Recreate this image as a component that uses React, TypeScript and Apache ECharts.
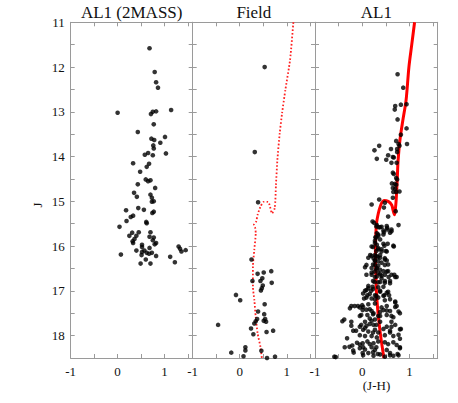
import React, { useEffect, useRef } from "react";
import * as echarts from "echarts";

// Panel 1: AL1 (2MASS) stars [J-H, J]
const twoMassStars: number[][] = [
  [0.68, 11.58], [0.79, 12.11], [0.82, 12.34], [0.86, 12.46], [0.0, 13.02], [1.14, 12.96],
  [0.71, 13.05], [0.75, 13.0], [0.82, 12.99], [0.77, 13.28], [0.43, 13.45], [1.01, 13.56],
  [0.72, 13.6], [0.78, 13.63], [0.91, 13.69], [0.76, 13.75], [0.77, 13.82], [0.65, 13.92],
  [0.58, 13.96], [0.75, 13.97], [1.03, 13.93], [0.33, 14.15], [0.67, 14.16], [0.62, 14.23],
  [0.48, 14.34], [0.6, 14.51], [0.7, 14.53], [0.65, 14.55], [0.8, 14.7], [0.43, 14.62],
  [0.35, 14.81], [0.41, 14.9], [0.7, 14.85], [0.73, 14.92], [0.73, 15.01], [0.77, 15.0],
  [0.18, 15.2], [0.56, 15.19], [0.44, 15.15], [0.33, 15.32], [0.28, 15.35], [0.77, 15.23],
  [0.74, 15.26], [0.19, 15.44], [0.61, 15.46], [0.62, 15.49], [0.04, 15.57], [0.31, 15.7],
  [0.45, 15.69], [0.7, 15.69], [0.25, 15.77], [0.4, 15.77], [0.68, 15.79], [0.77, 15.81],
  [0.36, 15.84], [0.32, 15.89], [0.33, 15.93], [0.75, 15.87], [0.82, 15.93], [0.79, 15.96],
  [0.52, 15.97], [0.52, 16.02], [0.68, 16.04], [0.4, 16.1], [0.57, 16.1], [0.52, 16.13],
  [0.62, 16.15], [0.73, 16.15], [0.67, 16.17], [0.51, 16.2], [0.82, 16.22], [0.07, 16.19],
  [0.6, 16.3], [0.49, 16.39], [0.7, 16.39], [1.12, 16.24], [1.22, 16.36], [1.3, 16.01],
  [1.33, 16.06], [1.36, 16.12], [1.45, 16.09],
];

// Panel 2: Field stars
const fieldStars: number[][] = [
  [0.53, 12.0], [0.32, 13.9], [0.39, 15.02], [0.25, 16.3], [0.38, 16.62], [0.51, 16.59],
  [0.67, 16.56], [0.48, 16.72], [0.27, 16.78], [0.44, 16.78], [0.68, 16.82], [0.49, 16.88],
  [0.47, 16.94], [0.45, 16.99], [-0.08, 17.09], [0.01, 17.21], [0.53, 17.3], [0.39, 17.46],
  [0.52, 17.52], [0.37, 17.63], [0.54, 17.63], [0.34, 17.68], [0.56, 17.69], [0.51, 17.67],
  [0.31, 17.73], [-0.46, 17.76], [0.24, 17.84], [0.71, 17.89], [0.57, 17.92], [0.29, 17.97],
  [0.12, 18.26], [0.12, 18.33], [-0.18, 18.38], [0.46, 18.34], [0.08, 18.46], [0.75, 18.47],
  [0.58, 18.5],
];

// Panel 3: AL1 stars
const al1Stars: number[][] = [
  [0.75, 12.16], [0.87, 12.46], [0.82, 12.84], [0.7, 12.87], [0.69, 12.95], [0.94, 12.83],
  [0.75, 13.17], [0.94, 13.37], [0.82, 13.51], [0.72, 13.65], [0.77, 13.72], [0.79, 13.76],
  [0.95, 13.72], [0.36, 13.76], [0.26, 13.86], [0.61, 13.83], [0.74, 13.83], [0.74, 13.9],
  [0.55, 13.97], [0.65, 14.01], [0.67, 14.02], [0.31, 14.05], [0.51, 14.07], [0.62, 14.14],
  [0.73, 14.14], [0.65, 14.36], [0.67, 14.39], [0.72, 14.48], [0.74, 14.51], [0.63, 14.6],
  [0.69, 14.61], [0.72, 14.63], [0.65, 14.7], [0.7, 14.72], [0.66, 14.79], [0.72, 14.79],
  [0.79, 14.78], [0.65, 14.92], [0.36, 14.96],
  [0.2, 15.07], [0.46, 15.14], [0.48, 15.03], [0.55, 15.34], [0.71, 15.22], [0.22, 15.45],
  [0.31, 15.53], [0.35, 15.58], [0.41, 15.57], [0.52, 15.55], [0.62, 15.63], [0.77, 15.53],
  [0.45, 15.65], [0.53, 15.63], [0.31, 15.71], [0.34, 15.77], [0.28, 15.8], [0.45, 15.74],
  [0.27, 15.88], [0.31, 15.97], [0.47, 15.99], [0.66, 15.99], [0.2, 16.01], [0.34, 16.07],
  [0.41, 16.12], [0.52, 16.12], [0.17, 16.2], [0.27, 16.2], [0.38, 16.2], [0.24, 16.27],
  [0.33, 16.25], [0.48, 16.27], [0.27, 16.32], [0.34, 16.34], [0.52, 16.32], [0.09, 16.42],
  [0.27, 16.42], [0.48, 16.42], [0.2, 16.49], [0.31, 16.49], [0.38, 16.53], [0.26, 16.57],
  [0.34, 16.6], [0.52, 16.57], [0.09, 16.64], [0.2, 16.64], [0.31, 16.68], [0.41, 16.66],
  [0.48, 16.64], [0.62, 16.64], [0.68, 16.64], [0.7, 16.69], [0.56, 16.69],
  [0.26, 16.8], [0.38, 16.8], [0.48, 16.82], [0.59, 16.83], [0.13, 16.89], [0.22, 16.91],
  [0.34, 16.92], [0.45, 16.91], [0.09, 16.98], [0.19, 17.0], [0.38, 17.02], [0.55, 17.02],
  [0.02, 17.06], [0.11, 17.1], [0.27, 17.1], [0.47, 17.1], [0.57, 17.1], [0.04, 17.17],
  [0.2, 17.17], [0.34, 17.15], [0.48, 17.21], [0.7, 17.24], [-0.23, 17.34], [-0.16, 17.34],
  [-0.09, 17.34], [0.0, 17.32], [0.13, 17.3], [0.27, 17.28], [0.52, 17.34], [0.73, 17.34],
  [0.01, 17.43], [0.09, 17.42], [0.2, 17.45], [0.38, 17.47], [0.45, 17.43], [0.59, 17.45],
  [-0.02, 17.54], [0.11, 17.54], [0.24, 17.5], [0.34, 17.56], [0.52, 17.54], [0.8, 17.5],
  [0.16, 17.62], [0.27, 17.64], [0.66, 17.59], [-0.38, 17.64],
  [-0.23, 17.69], [0.06, 17.69], [0.2, 17.67], [0.38, 17.69], [0.62, 17.69], [-0.02, 17.76],
  [0.09, 17.78], [0.24, 17.76], [0.52, 17.8], [0.7, 17.76], [-0.13, 17.89], [0.02, 17.87],
  [0.13, 17.91], [0.27, 17.87], [0.34, 17.93], [0.59, 17.89], [0.8, 17.86], [-0.05, 17.99],
  [0.06, 18.01], [0.2, 18.01], [0.31, 18.04], [0.48, 17.99], [0.66, 18.01], [-0.32, 18.06],
  [-0.11, 18.16], [0.01, 18.17], [0.11, 18.13], [0.24, 18.17], [0.34, 18.13], [0.55, 18.19],
  [0.73, 18.21], [-0.27, 18.25], [-0.05, 18.28], [0.06, 18.31], [0.2, 18.26], [0.27, 18.32],
  [0.52, 18.32], [0.8, 18.28], [-0.18, 18.38], [0.01, 18.39], [0.13, 18.39], [0.33, 18.41],
  [0.59, 18.39], [0.75, 18.41], [-0.59, 18.47], [0.24, 18.45], [0.48, 18.47], [0.66, 18.45],
  [0.25, 15.48], [0.3, 15.56], [0.38, 15.58], [0.53, 15.59], [0.62, 15.67], [0.46, 15.69],
  [0.34, 15.74], [0.59, 15.7], [0.3, 15.81], [0.38, 15.85], [0.27, 15.93], [0.45, 15.95],
  [0.54, 15.95], [0.67, 16.01], [0.23, 16.02], [0.34, 16.04], [0.41, 16.07], [0.5, 16.11],
  [0.3, 16.11], [0.13, 16.26], [0.2, 16.22], [0.3, 16.22], [0.38, 16.26], [0.48, 16.3],
  [0.27, 16.33], [0.41, 16.37], [0.55, 16.41], [0.34, 16.44], [0.23, 16.41], [0.06, 16.47],
  [0.3, 16.52], [0.45, 16.56], [0.55, 16.56], [0.2, 16.59], [0.38, 16.63], [0.73, 16.69],
  [0.27, 16.69], [0.41, 16.72], [0.48, 16.78], [0.23, 16.78], [0.34, 16.81], [0.59, 16.78],
  [0.13, 16.94], [0.23, 16.96], [0.06, 17.0], [0.38, 17.0], [0.52, 17.04], [0.16, 17.07],
  [0.3, 17.11], [0.45, 17.11], [0.59, 17.19], [0.7, 17.26], [0.09, 17.15], [0.27, 17.19],
  [-0.26, 17.39], [-0.05, 17.37], [0.02, 17.36], [0.16, 17.41], [0.41, 17.37], [0.52, 17.44],
  [0.7, 17.36], [0.23, 17.52], [0.38, 17.56], [0.62, 17.56], [0.77, 17.46], [-0.05, 17.56],
  [-0.42, 17.68], [-0.23, 17.78], [-0.05, 17.8], [0.06, 17.83], [0.16, 17.74], [0.3, 17.76],
  [0.45, 17.85], [0.62, 17.8], [0.82, 17.85], [-0.19, 17.89], [0.23, 17.93], [0.59, 17.93],
  [0.77, 17.98], [-0.37, 18.26], [-0.21, 18.22], [-0.05, 18.2], [0.02, 18.26], [0.16, 18.19],
  [0.3, 18.26], [0.48, 18.15], [0.66, 18.15], [0.8, 18.07], [0.8, 18.26], [-0.19, 18.33],
  [0.02, 18.44], [0.23, 18.37], [0.38, 18.42], [0.59, 18.44], [0.77, 18.44], [-0.56, 18.48],
];

// Isochrones
const fieldIsochrone: number[][] = [
  [1.14, 11.0], [1.07, 11.84], [0.97, 12.51], [0.9, 13.03], [0.85, 13.48], [0.8, 14.08],
  [0.77, 14.63], [0.745, 15.15], [0.685, 15.27], [0.634, 15.08], [0.6, 15.01], [0.51, 15.01],
  [0.44, 15.12], [0.38, 15.3], [0.35, 15.45], [0.3, 15.53], [0.33, 15.6], [0.34, 15.71],
  [0.31, 16.08], [0.28, 16.46], [0.28, 16.91], [0.31, 17.2], [0.34, 17.58], [0.38, 17.95],
  [0.44, 18.25], [0.47, 18.5],
];

const al1Isochrone: number[][] = [
  [1.11, 11.0], [1.05, 11.5], [0.99, 12.0], [0.93, 12.74], [0.86, 13.2], [0.8, 13.63],
  [0.76, 14.1], [0.745, 14.45], [0.72, 14.97], [0.7, 15.2], [0.685, 15.3], [0.655, 15.2],
  [0.625, 15.08], [0.55, 15.0], [0.46, 14.98], [0.41, 15.04], [0.36, 15.19], [0.32, 15.38],
  [0.3, 15.53], [0.285, 15.86], [0.28, 16.2], [0.29, 16.6], [0.3, 17.0], [0.32, 17.3],
  [0.345, 17.6], [0.39, 18.0], [0.46, 18.5],
];

const panelTitles = ["AL1 (2MASS)", "Field", "AL1"];

const FONT = "'Liberation Serif', 'Times New Roman', serif";

export default function App() {
  const ref = useRef<HTMLDivElement>(null);
  useEffect(() => {
    if (!ref.current) return;
    const chart = echarts.init(ref.current, null, { renderer: "svg" });
    const lefts = [70.7, 192.7, 315];
    const widths = [122, 122.3, 122.7];
    const top = 22.3;
    const height = 335.7;
    const axisColor = "#9a9a9a";
    const grids = lefts.map((l, i) => ({ left: l, top, width: widths[i], height }));
    const xBase = (gi: number, pos: "bottom" | "top") => ({
      type: "value",
      gridIndex: gi,
      position: pos,
      min: -1,
      max: 1.6,
      interval: 0.5,
      axisLine: { show: true, onZero: false, lineStyle: { color: axisColor, width: 1 } },
      axisTick: { show: true, inside: true, length: 4, lineStyle: { color: axisColor } },
      axisLabel: {
        show: pos === "bottom",
        margin: 7,
        color: "#111",
        fontFamily: FONT,
        fontSize: 13,
        formatter: (v: number) => (Math.abs(v - Math.round(v)) < 1e-6 && v < 1.55 ? String(Math.round(v)) : ""),
      },
      splitLine: { show: false },
    });
    const yBase = (gi: number, pos: "left" | "right") => ({
      type: "value",
      gridIndex: gi,
      position: pos,
      inverse: true,
      min: 11,
      max: 18.5,
      interval: 0.5,
      axisLine: { show: true, onZero: false, lineStyle: { color: axisColor, width: 1 } },
      axisTick: { show: true, inside: true, length: 4, lineStyle: { color: axisColor } },
      axisLabel: {
        show: pos === "left" && gi === 0,
        margin: 6,
        color: "#111",
        fontFamily: FONT,
        fontSize: 13,
        formatter: (v: number) => (Math.abs(v - Math.round(v)) < 1e-6 ? String(Math.round(v)) : ""),
      },
      splitLine: { show: false },
    });
    const xAxes = [0, 1, 2].map((g) => xBase(g, "bottom")).concat([0, 1, 2].map((g) => xBase(g, "top")));
    const yAxes = [0, 1, 2].map((g) => yBase(g, "left")).concat([0, 1, 2].map((g) => yBase(g, "right")));

    const scatter = (data: number[][], i: number) => ({
      type: "scatter",
      xAxisIndex: i,
      yAxisIndex: i,
      data,
      symbol: "circle",
      symbolSize: 4.6,
      itemStyle: { color: "#000" },
      z: 3,
    });

    const titles = panelTitles.map((t, i) => ({
      type: "text",
      x: lefts[i] + widths[i] / 2,
      y: 12,
      style: { text: t, fill: "#111", fontFamily: FONT, fontSize: 17, align: "center", verticalAlign: "middle" },
    }));

    chart.setOption({
      animation: false,
      backgroundColor: "#fff",
      grid: grids,
      xAxis: xAxes,
      yAxis: yAxes,
      series: [
        scatter(twoMassStars, 0),
        {
          type: "line",
          xAxisIndex: 1,
          yAxisIndex: 1,
          data: fieldIsochrone,
          showSymbol: false,
          symbol: "none",
          smooth: 0.2,
          lineStyle: { color: "#ff2020", width: 1.8, type: [1.6, 2] },
          z: 2,
        },
        scatter(fieldStars, 1),
        {
          type: "line",
          xAxisIndex: 2,
          yAxisIndex: 2,
          data: al1Isochrone,
          showSymbol: false,
          symbol: "none",
          smooth: 0.3,
          lineStyle: { color: "#ff0000", width: 3 },
          z: 2,
        },
        scatter(al1Stars, 2),
      ],
      graphic: [
        ...titles,
        {
          type: "text",
          x: 37,
          y: 205,
          rotation: Math.PI / 2,
          style: { text: "J", fill: "#111", fontFamily: FONT, fontSize: 13, align: "center", verticalAlign: "middle" },
        },
        {
          type: "text",
          x: 376.5,
          y: 385,
          style: { text: "(J-H)", fill: "#111", fontFamily: FONT, fontSize: 13, align: "center", verticalAlign: "middle" },
        },
      ],
    });
    return () => chart.dispose();
  }, []);
  return <div ref={ref} style={{ position: "absolute", left: 0, top: 0, width: 458, height: 403 }} />;
}
